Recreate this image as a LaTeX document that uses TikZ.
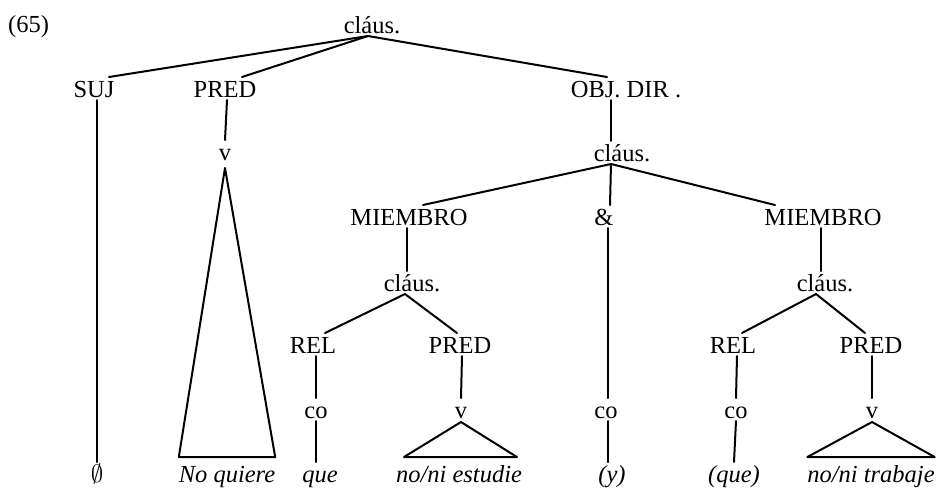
\documentclass[tikz,border=0pt]{standalone}
\usepackage{fontspec}
\setmainfont{Liberation Serif}
\begin{document}
\begin{tikzpicture}[x=1pt,y=-1pt,
  every node/.style={font=\fontsize{24.5}{29}\selectfont},
  tn/.style={anchor=base,inner sep=0pt,outer xsep=0pt,outer ysep=3pt,text height=17pt,text depth=0pt},
  lf/.style={tn,font=\fontsize{24.5}{29}\selectfont\itshape},
  edge/.style={line width=2pt,line cap=round,line join=round}]
\useasboundingbox (0,0) rectangle (942,488);
\node[anchor=base west,inner sep=0pt] (ex) at (8,32) {(65)};
% rows
\node[tn] (c1) at (372,33) {cláus.};
\node[tn] (suj) at (94,97) {SUJ};
\node[tn] (pred1) at (225,97) {PRED};
\node[tn] (obj) at (626,97) {OBJ. DIR .};
\node[tn] (v1) at (225,160) {v};
\node[tn] (c2) at (622,161) {cláus.};
\node[tn] (mL) at (409,225) {MIEMBRO};
\node[tn] (amp) at (604,225) {\&};
\node[tn] (mR) at (823,225) {MIEMBRO};
\node[tn] (cL) at (412,291) {cláus.};
\node[tn] (cR) at (825,291) {cláus.};
\node[tn] (relL) at (313,353) {REL};
\node[tn] (predL) at (460,353) {PRED};
\node[tn] (relR) at (733,353) {REL};
\node[tn] (predR) at (871,353) {PRED};
\node[tn] (coL) at (316,418) {co};
\node[tn] (vL) at (461,418) {v};
\node[tn] (coM) at (606,418) {co};
\node[tn] (coR) at (736,418) {co};
\node[tn] (vR) at (872,418) {v};
% leaves
\node[tn] (zero) at (97,482) {$\emptyset$};
\node[lf] (nq) at (227,482) {No quiere};
\node[lf] (que) at (320,482) {que};
\node[lf] (est) at (459,482) {no/ni estudie};
\node[lf] (y) at (612,482) {(y)};
\node[lf] (que2) at (734,482) {(que)};
\node[lf] (trab) at (871,482) {no/ni trabaje};
% edges
\draw[edge] ([xshift=-4pt]c1.south) -- ([xshift=15pt]suj.north);
\draw[edge] ([xshift=-4pt]c1.south) -- ([xshift=17pt]pred1.north);
\draw[edge] ([xshift=-4pt]c1.south) -- ([xshift=-19pt]obj.north);
\draw[edge] ([xshift=3pt]suj.south) -- (zero.north);
\draw[edge] ([xshift=2pt]pred1.south) -- (v1.north);
\draw[edge] ([xshift=-15pt]obj.south) -- ([xshift=-11pt]c2.north);
\draw[edge] ([xshift=-11pt]c2.south) -- ([xshift=14pt]mL.north);
\draw[edge] ([xshift=-11pt]c2.south) -- ([xshift=6pt]amp.north);
\draw[edge] ([xshift=-11pt]c2.south) -- ([xshift=-48pt]mR.north);
\draw[edge] ([xshift=-2pt]mL.south) -- ([xshift=-5pt]cL.north);
\draw[edge] ([xshift=4pt]amp.south) -- ([xshift=2pt]coM.north);
\draw[edge] ([xshift=-2pt]mR.south) -- ([xshift=-4pt]cR.north);
\draw[edge] ([xshift=-7pt]cL.south) -- ([xshift=12pt]relL.north);
\draw[edge] ([xshift=-7pt]cL.south) -- ([xshift=-3pt]predL.north);
\draw[edge] ([xshift=-9pt]cR.south) -- ([xshift=9pt]relR.north);
\draw[edge] ([xshift=-9pt]cR.south) -- ([xshift=-6pt]predR.north);
\draw[edge] ([xshift=3pt]relL.south) -- (coL.north);
\draw[edge] ([xshift=2pt]predL.south) -- (vL.north);
\draw[edge] ([xshift=4pt]relR.south) -- (coR.north);
\draw[edge] ([xshift=1pt]predR.south) -- (vR.north);
\draw[edge] (coL.south) -- ([xshift=-4pt]que.north);
\draw[edge] ([xshift=2pt]coM.south) -- ([xshift=-4pt]y.north);
\draw[edge] (coR.south) -- (que2.north);
% triangles
\draw[edge] ([yshift=-5pt]v1.south) -- ([yshift=5pt]nq.north west) -- ([yshift=5pt]nq.north east) -- cycle;
\draw[edge] ([yshift=-1pt]vL.south) -- ([yshift=5pt,xshift=8pt]est.north west) -- ([yshift=5pt,xshift=-5pt]est.north east) -- cycle;
\draw[edge] ([yshift=-1pt]vR.south) -- ([yshift=5pt]trab.north west) -- ([yshift=5pt]trab.north east) -- cycle;
\end{tikzpicture}
\end{document}
